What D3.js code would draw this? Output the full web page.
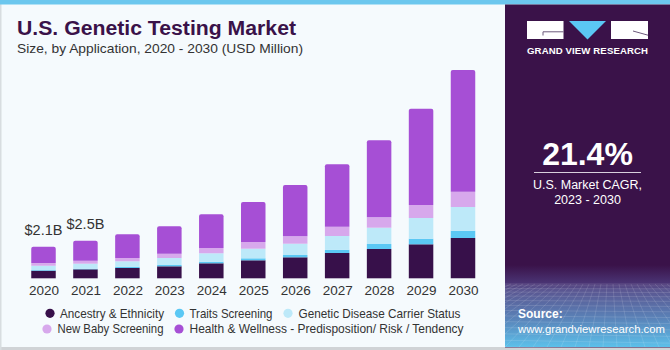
<!DOCTYPE html>
<html><head><meta charset="utf-8">
<script src="https://cdn.jsdelivr.net/npm/d3@7/dist/d3.min.js"></script>
<style>html,body{margin:0;padding:0;background:#f5fafd;}svg{display:block;}</style>
</head><body>
<script>
const years = ["2020","2021","2022","2023","2024","2025","2026","2027","2028","2029","2030"];
const seriesNames = ["Ancestry & Ethnicity","Traits Screening","Genetic Disease Carrier Status","New Baby Screening","Health & Wellness - Predisposition/ Risk / Tendency"];
const ancestry = [505, 600, 687, 800, 1000, 1200, 1400, 1687, 1953, 2267, 2687];
const traits   = [45, 40, 87, 87, 107, 133, 153, 220, 333, 373, 487];
const carrier  = [287, 333, 360, 467, 560, 640, 753, 913, 1087, 1380, 1580];
const baby     = [180, 200, 220, 287, 353, 447, 493, 620, 693, 867, 1020];
const health   = [1083, 1327, 1580, 1827, 2247, 2667, 3420, 4160, 5133, 6420, 8113];
const valueLabels = [{year:"2020", text:"$2.1B"},{year:"2021", text:"$2.5B"}];
const colors = ["#37104a","#5bc8f4","#bde9f9","#d7a8ec","#a64fd5"];

const W = 670, H = 350;
const svg = d3.select("body").append("svg").attr("width", W).attr("height", H);
const F = "'Liberation Sans', Arial, sans-serif";

// background & frame
svg.append("rect").attr("x",0).attr("y",0).attr("width",W).attr("height",H).attr("fill","#f5fafd");
svg.append("rect").attr("x",0).attr("y",347).attr("width",W).attr("height",3).attr("fill","#d0d3d6");
svg.append("rect").attr("x",0).attr("y",0).attr("width",1.5).attr("height",H).attr("fill","#d8dde0");
svg.append("rect").attr("x",0).attr("y",0).attr("width",W).attr("height",4.5).attr("fill","#6cc7ee");

// right panel
const defs = svg.append("defs");
const g1 = defs.append("linearGradient").attr("id","srcgrad").attr("x1",0).attr("y1",0).attr("x2",0).attr("y2",1);
g1.append("stop").attr("offset","0").attr("stop-color","#3a1249");
g1.append("stop").attr("offset","0.22").attr("stop-color","#4a3474");
g1.append("stop").attr("offset","0.3").attr("stop-color","#5a5590");
g1.append("stop").attr("offset","0.65").attr("stop-color","#5a82b8");
g1.append("stop").attr("offset","1").attr("stop-color","#5cc0ea");
svg.append("rect").attr("x",505).attr("y",4.5).attr("width",165).attr("height",343).attr("fill","#3a1249");
svg.append("rect").attr("x",505).attr("y",265).attr("width",165).attr("height",82).attr("fill","url(#srcgrad)");
// decorative perspective grid
const grid = svg.append("g").attr("stroke","#ffffff").attr("stroke-opacity",0.18).attr("stroke-width",0.7).attr("fill","none");
const gy = d3.range(0, 14).map(i => 284 + Math.pow(i/13, 1.4)*63);
gy.forEach(y => grid.append("line").attr("x1",505).attr("x2",670).attr("y1",y).attr("y2",y+ (y-284)*0.05));
d3.range(-20, 40).forEach(i => {
  const xt = 505 + i*6, xb = 505 + (i-10)*14;
  grid.append("line").attr("x1",Math.max(505,xt)).attr("y1",284 + (Math.max(505,xt)-xt)*63/Math.max(1e-6,(xb-xt)) * (xb>xt?1:0)).attr("x2",xb).attr("y2",347)
    .attr("clip-path","url(#panelclip)");
});
defs.append("clipPath").attr("id","panelclip").append("rect").attr("x",505).attr("y",265).attr("width",165).attr("height",82);

// logo
const logo = svg.append("g");
logo.append("rect").attr("x",527).attr("y",21).attr("width",36.5).attr("height",18).attr("fill","#fff");
logo.append("path").attr("d","M543,35.5 V31.8 H563.5").attr("stroke","#6d5a7c").attr("stroke-width",1).attr("fill","none");
logo.append("path").attr("d","M569,21 L606,21 L587.5,39.5 Z").attr("fill","#5bc8f4");
logo.append("rect").attr("x",611).attr("y",21).attr("width",37).attr("height",18).attr("fill","#fff");
logo.append("path").attr("d","M633,31 L648,35.2").attr("stroke","#6d5a7c").attr("stroke-width",1);
logo.append("text").attr("x",587.5).attr("y",53.5).attr("text-anchor","middle").attr("fill","#fff")
  .attr("font-family",F).attr("font-weight","bold").attr("font-size",9.6).attr("textLength",121).attr("lengthAdjust","spacing")
  .text("GRAND VIEW RESEARCH");

// CAGR
svg.append("text").attr("x",587.5).attr("y",165).attr("text-anchor","middle").attr("fill","#fff")
  .attr("font-family",F).attr("font-weight","bold").attr("font-size",32).text("21.4%");
svg.append("line").attr("x1",534).attr("x2",641).attr("y1",172.5).attr("y2",172.5).attr("stroke","#d8d0dd").attr("stroke-width",1);
svg.append("text").attr("x",587.5).attr("y",188.5).attr("text-anchor","middle").attr("fill","#fff")
  .attr("font-family",F).attr("font-size",12.5).text("U.S. Market CAGR,");
svg.append("text").attr("x",587.5).attr("y",203.5).attr("text-anchor","middle").attr("fill","#fff")
  .attr("font-family",F).attr("font-size",12.5).text("2023 - 2030");

// source
svg.append("text").attr("x",518).attr("y",318).attr("fill","#fff").attr("font-family",F).attr("font-weight","bold").attr("font-size",12).text("Source:");
svg.append("text").attr("x",518).attr("y",332.5).attr("fill","#fff").attr("font-family",F).attr("font-size",11.3).text("www.grandviewresearch.com");

// title
svg.append("text").attr("x",17).attr("y",35).attr("fill","#3a1249").attr("font-family",F).attr("font-weight","bold")
  .attr("font-size",19.5).attr("textLength",279).attr("lengthAdjust","spacingAndGlyphs").text("U.S. Genetic Testing Market");
svg.append("text").attr("x",17).attr("y",53.3).attr("fill","#333").attr("font-family",F)
  .attr("font-size",13.5).attr("textLength",286).attr("lengthAdjust","spacingAndGlyphs").text("Size, by Application, 2020 - 2030 (USD Million)");

// chart
const x = d3.scalePoint().domain(years).range([43.5, 463]);
const bw = 24.5;
const y = d3.scaleLinear().domain([0, 14000]).range([278.3, 278.3 - 210]);
const table = years.map((yr,i) => ({year: yr, a: ancestry[i], t: traits[i], c: carrier[i], b: baby[i], h: health[i]}));
const keys = ["a","t","c","b","h"];
const stacked = d3.stack().keys(keys)(table);
const chart = svg.append("g");
stacked.forEach((layer, li) => {
  chart.append("g").attr("fill", colors[li]).selectAll("path").data(layer).join("path")
    .attr("d", d => {
      const x0 = x(d.data.year) - bw/2, x1 = x0 + bw, y0 = y(d[0]), y1 = y(d[1]);
      if (li === keys.length - 1) {
        const r = 2;
        return `M${x0},${y0} V${y1 + r} Q${x0},${y1} ${x0 + r},${y1} H${x1 - r} Q${x1},${y1} ${x1},${y1 + r} V${y0} Z`;
      }
      return `M${x0},${y0} V${y1} H${x1} V${y0} Z`;
    });
});
// axis
const axis = svg.append("g").attr("transform", "translate(0,278.3)").call(d3.axisBottom(x).tickSize(0).tickPadding(7));
axis.select(".domain").remove();
axis.selectAll("text").attr("font-family",F).attr("font-size",13.5).attr("fill","#333").attr("dy","0.71em");

// value labels
valueLabels.forEach(v => {
  const i = years.indexOf(v.year);
  const total = ancestry[i] + traits[i] + carrier[i] + baby[i] + health[i];
  svg.append("text").attr("x", x(v.year)).attr("y", y(total) - 12).attr("text-anchor","middle")
    .attr("font-family",F).attr("font-size",14.5).attr("fill","#333").text(v.text);
});

// legend
const legendRows = [
  [{i:0, cx:50, tx:60}, {i:1, cx:179.5, tx:189.5}, {i:2, cx:288, tx:298.5}],
  [{i:3, cx:47, tx:57.5}, {i:4, cx:179, tx:189.5}]
];
const legendY = [313.3, 329];
const legendW = {0:104, 1:83, 2:162, 3:106, 4:274};
legendRows.forEach((row, ri) => {
  row.forEach(it => {
    svg.append("circle").attr("cx", it.cx).attr("cy", legendY[ri]).attr("r", 4.6).attr("fill", colors[it.i]);
    svg.append("text").attr("x", it.tx).attr("y", legendY[ri] + 4.3).attr("font-family",F).attr("font-size",13)
      .attr("fill","#333").attr("textLength", legendW[it.i]).attr("lengthAdjust","spacingAndGlyphs").text(seriesNames[it.i]);
  });
});
</script>
</body></html>
